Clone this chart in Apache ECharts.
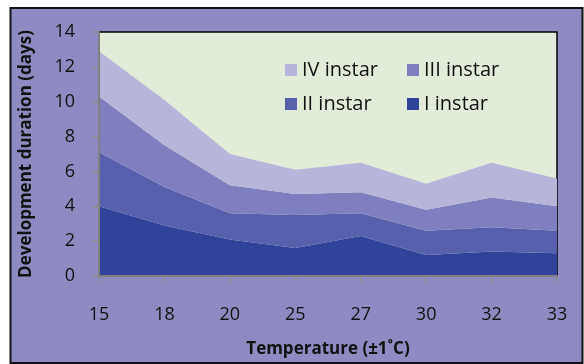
<!DOCTYPE html>
<html><head><meta charset="utf-8">
<script src="https://cdn.jsdelivr.net/npm/echarts@6/dist/echarts.min.js"></script>
<style>html,body{margin:0;padding:0;background:#fff}#c{width:584px;height:364px}</style>
</head><body><div id="c"></div>
<script>
const categories = ['15','18','20','25','27','30','32','33'];
const instarI   = [4.0, 2.9, 2.1, 1.6, 2.3, 1.2, 1.4, 1.3];
const instarII  = [3.1, 2.2, 1.5, 1.9, 1.3, 1.4, 1.4, 1.3];
const instarIII = [3.2, 2.4, 1.6, 1.2, 1.2, 1.2, 1.7, 1.4];
const instarIV  = [2.6, 2.6, 1.8, 1.4, 1.7, 1.5, 2.0, 1.6];
const yTicks = [0, 2, 4, 6, 8, 10, 12, 14];

const colors = {I:'#31429A', II:'#5660AC', III:'#7F7FBF', IV:'#B8B5DB'};
const font = '"Open Sans", "Liberation Sans", sans-serif';

function areaSeries(name, data, color){
  return {name, type:'line', stack:'total', data, symbol:'none', smooth:false,
    lineStyle:{width:0}, itemStyle:{color}, areaStyle:{color, opacity:1}};
}
function legendAt(name, left, top){
  return {data:[name], left, top, itemWidth:12, itemHeight:12, itemGap:0,
    textStyle:{fontFamily:font, fontSize:20, color:'#111'}, icon:'rect', padding:0};
}

const chart = echarts.init(document.getElementById('c'));
chart.setOption({
  backgroundColor:'#ffffff',
  animation:false,
  graphic:[{type:'rect', z:-10, shape:{x:10.5, y:8, width:572, height:355},
    style:{fill:'#8E8BC2', stroke:'#111', lineWidth:2}}],
  grid:{left:99, right:27, top:32, bottom:88, show:true, backgroundColor:'#E1EDD9',
    borderColor:'#000', borderWidth:1.5},
  legend:[
    legendAt('IV instar', 285, 60),
    legendAt('III instar', 407, 60),
    legendAt('II instar', 285, 94),
    legendAt('I instar', 407, 94)
  ],
  xAxis:{type:'category', data:categories, boundaryGap:false,
    axisLine:{lineStyle:{color:'#808080', width:2}},
    axisTick:{show:true, length:6, lineStyle:{color:'#8a8a8a', width:1.5}},
    axisLabel:{fontFamily:font, fontSize:18, color:'#111', margin:30},
    name:'Temperature (±1˚C)', nameLocation:'middle', nameGap:65,
    nameTextStyle:{fontFamily:font, fontSize:17, fontWeight:'bold', color:'#111'},
    z:5},
  yAxis:{type:'value', min:0, max:14, interval:2,
    axisLine:{show:true, lineStyle:{color:'#808080', width:2}},
    axisTick:{show:true, length:6, lineStyle:{color:'#8a8a8a', width:1.5}},
    splitLine:{show:false},
    axisLabel:{fontFamily:font, fontSize:18, color:'#111', margin:24,
      formatter:v=>yTicks.includes(v)?String(v):''},
    name:'Development duration (days)', nameLocation:'middle', nameGap:64,
    nameTextStyle:{fontFamily:font, fontSize:17, fontWeight:'bold', color:'#111'},
    z:5},
  series:[
    areaSeries('I instar', instarI, colors.I),
    areaSeries('II instar', instarII, colors.II),
    areaSeries('III instar', instarIII, colors.III),
    areaSeries('IV instar', instarIV, colors.IV)
  ]
});
</script></body></html>
